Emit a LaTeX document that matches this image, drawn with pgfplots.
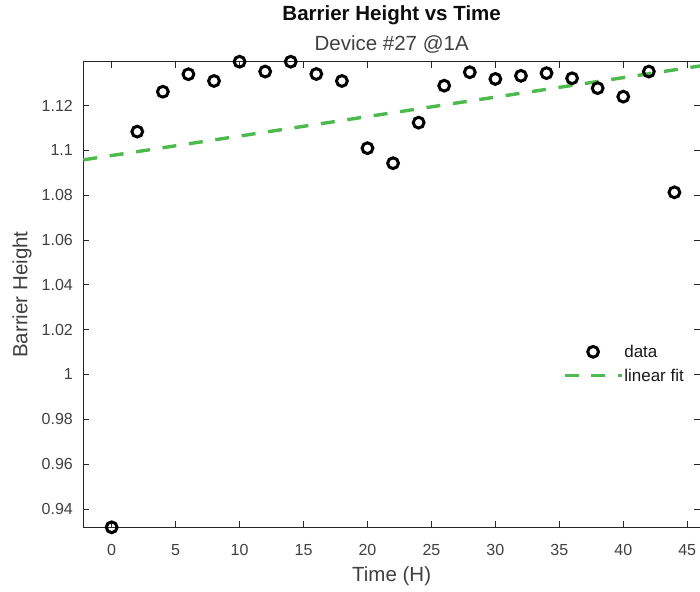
\documentclass[border=0pt]{standalone}
\usepackage{pgfplots}
\pgfplotsset{compat=1.18}
\usepackage{fontspec}
\setmainfont{Liberation Sans}
\definecolor{fitgreen}{rgb}{0.30,0.73,0.30}
\definecolor{axgray}{gray}{0.15}
\definecolor{txtgray}{gray}{0.25}
\pgfplotstableread{
x y
0 0.9318
2 1.1084
4 1.1262
6 1.1340
8 1.1310
10 1.1396
12 1.1352
14 1.1396
16 1.1341
18 1.1310
20 1.1010
22 1.0943
24 1.1124
26 1.1289
28 1.1349
30 1.1319
32 1.1333
34 1.1345
36 1.1322
38 1.1278
40 1.1240
42 1.1352
44 1.0813
}\datatable
\pgfplotstableread{
x y
-2.22 1.0958
46.0 1.1377
}\fittable
\begin{document}
\begin{tikzpicture}
\begin{axis}[
  scale only axis, width=616.7bp, height=465.6bp,
  xmin=-2.22, xmax=46.0, ymin=0.9318, ymax=1.1396,
  clip=false,
  axis line style={axgray, line width=0.8bp},
  tick style={axgray, line width=0.8bp},
  tick align=inside, tick pos=both, major tick length=6bp,
  xtick={0,5,10,15,20,25,30,35,40,45},
  xticklabels={0,5,10,15,20,25,30,35,40,45},
  ytick={0.94,0.96,0.98,1,1.02,1.04,1.06,1.08,1.1,1.12},
  yticklabels={0.94,0.96,0.98,1,1.02,1.04,1.06,1.08,1.1,1.12},
  ticklabel style={font=\fontsize{16bp}{18bp}\selectfont, text=txtgray, inner sep=0pt},
  xticklabel style={anchor=base, yshift=-27.7bp},
  yticklabel style={anchor=east, xshift=-10.3bp},
  legend image code/.code={\draw[mark repeat=2,mark phase=2,#1] plot coordinates {(0bp,0bp) (28.5bp,0bp) (57bp,0bp)};},
  legend cell align=left,
  legend style={at={(axis cs:35.28,1.0132)}, anchor=north west,
    draw=none, fill=none, inner sep=0pt, outer sep=0pt,
    font=\fontsize{17bp}{20bp}\selectfont, text=black!90,
    row sep=10bp,
    nodes={inner sep=0pt, outer sep=0pt},
    /tikz/every odd column/.append style={column sep=1bp}},
]
\addplot[only marks, mark=o, mark size=5.4bp, line width=3bp, black] table[x=x,y=y] {\datatable};
\addlegendentry{data}
\addplot[fitgreen, line width=3.4bp, dash pattern=on 14bp off 12.7bp] table[x=x,y=y] {\fittable};
\addlegendentry{linear fit}
\end{axis}
\node[anchor=base, font=\bfseries\fontsize{20.5bp}{24bp}\selectfont, text=black!95] at ([yshift=40.7bp]current axis.north) {Barrier Height vs Time};
\node[anchor=base, font=\fontsize{20.5bp}{24bp}\selectfont, text=txtgray] at ([yshift=11bp]current axis.north) {Device \#27 @1A};
\node[anchor=base, font=\fontsize{20.5bp}{24bp}\selectfont, text=txtgray] at ([yshift=-54.4bp]current axis.south) {Time (H)};
\node[anchor=base, rotate=90, font=\fontsize{20.5bp}{24bp}\selectfont, text=txtgray] at ([xshift=-56bp]current axis.west) {Barrier Height};
\pgfresetboundingbox
\path[use as bounding box] ([shift={(-83.3bp,-64.7bp)}]current axis.south west) rectangle ([shift={(0bp,61.7bp)}]current axis.north east);
\end{tikzpicture}
\end{document}
